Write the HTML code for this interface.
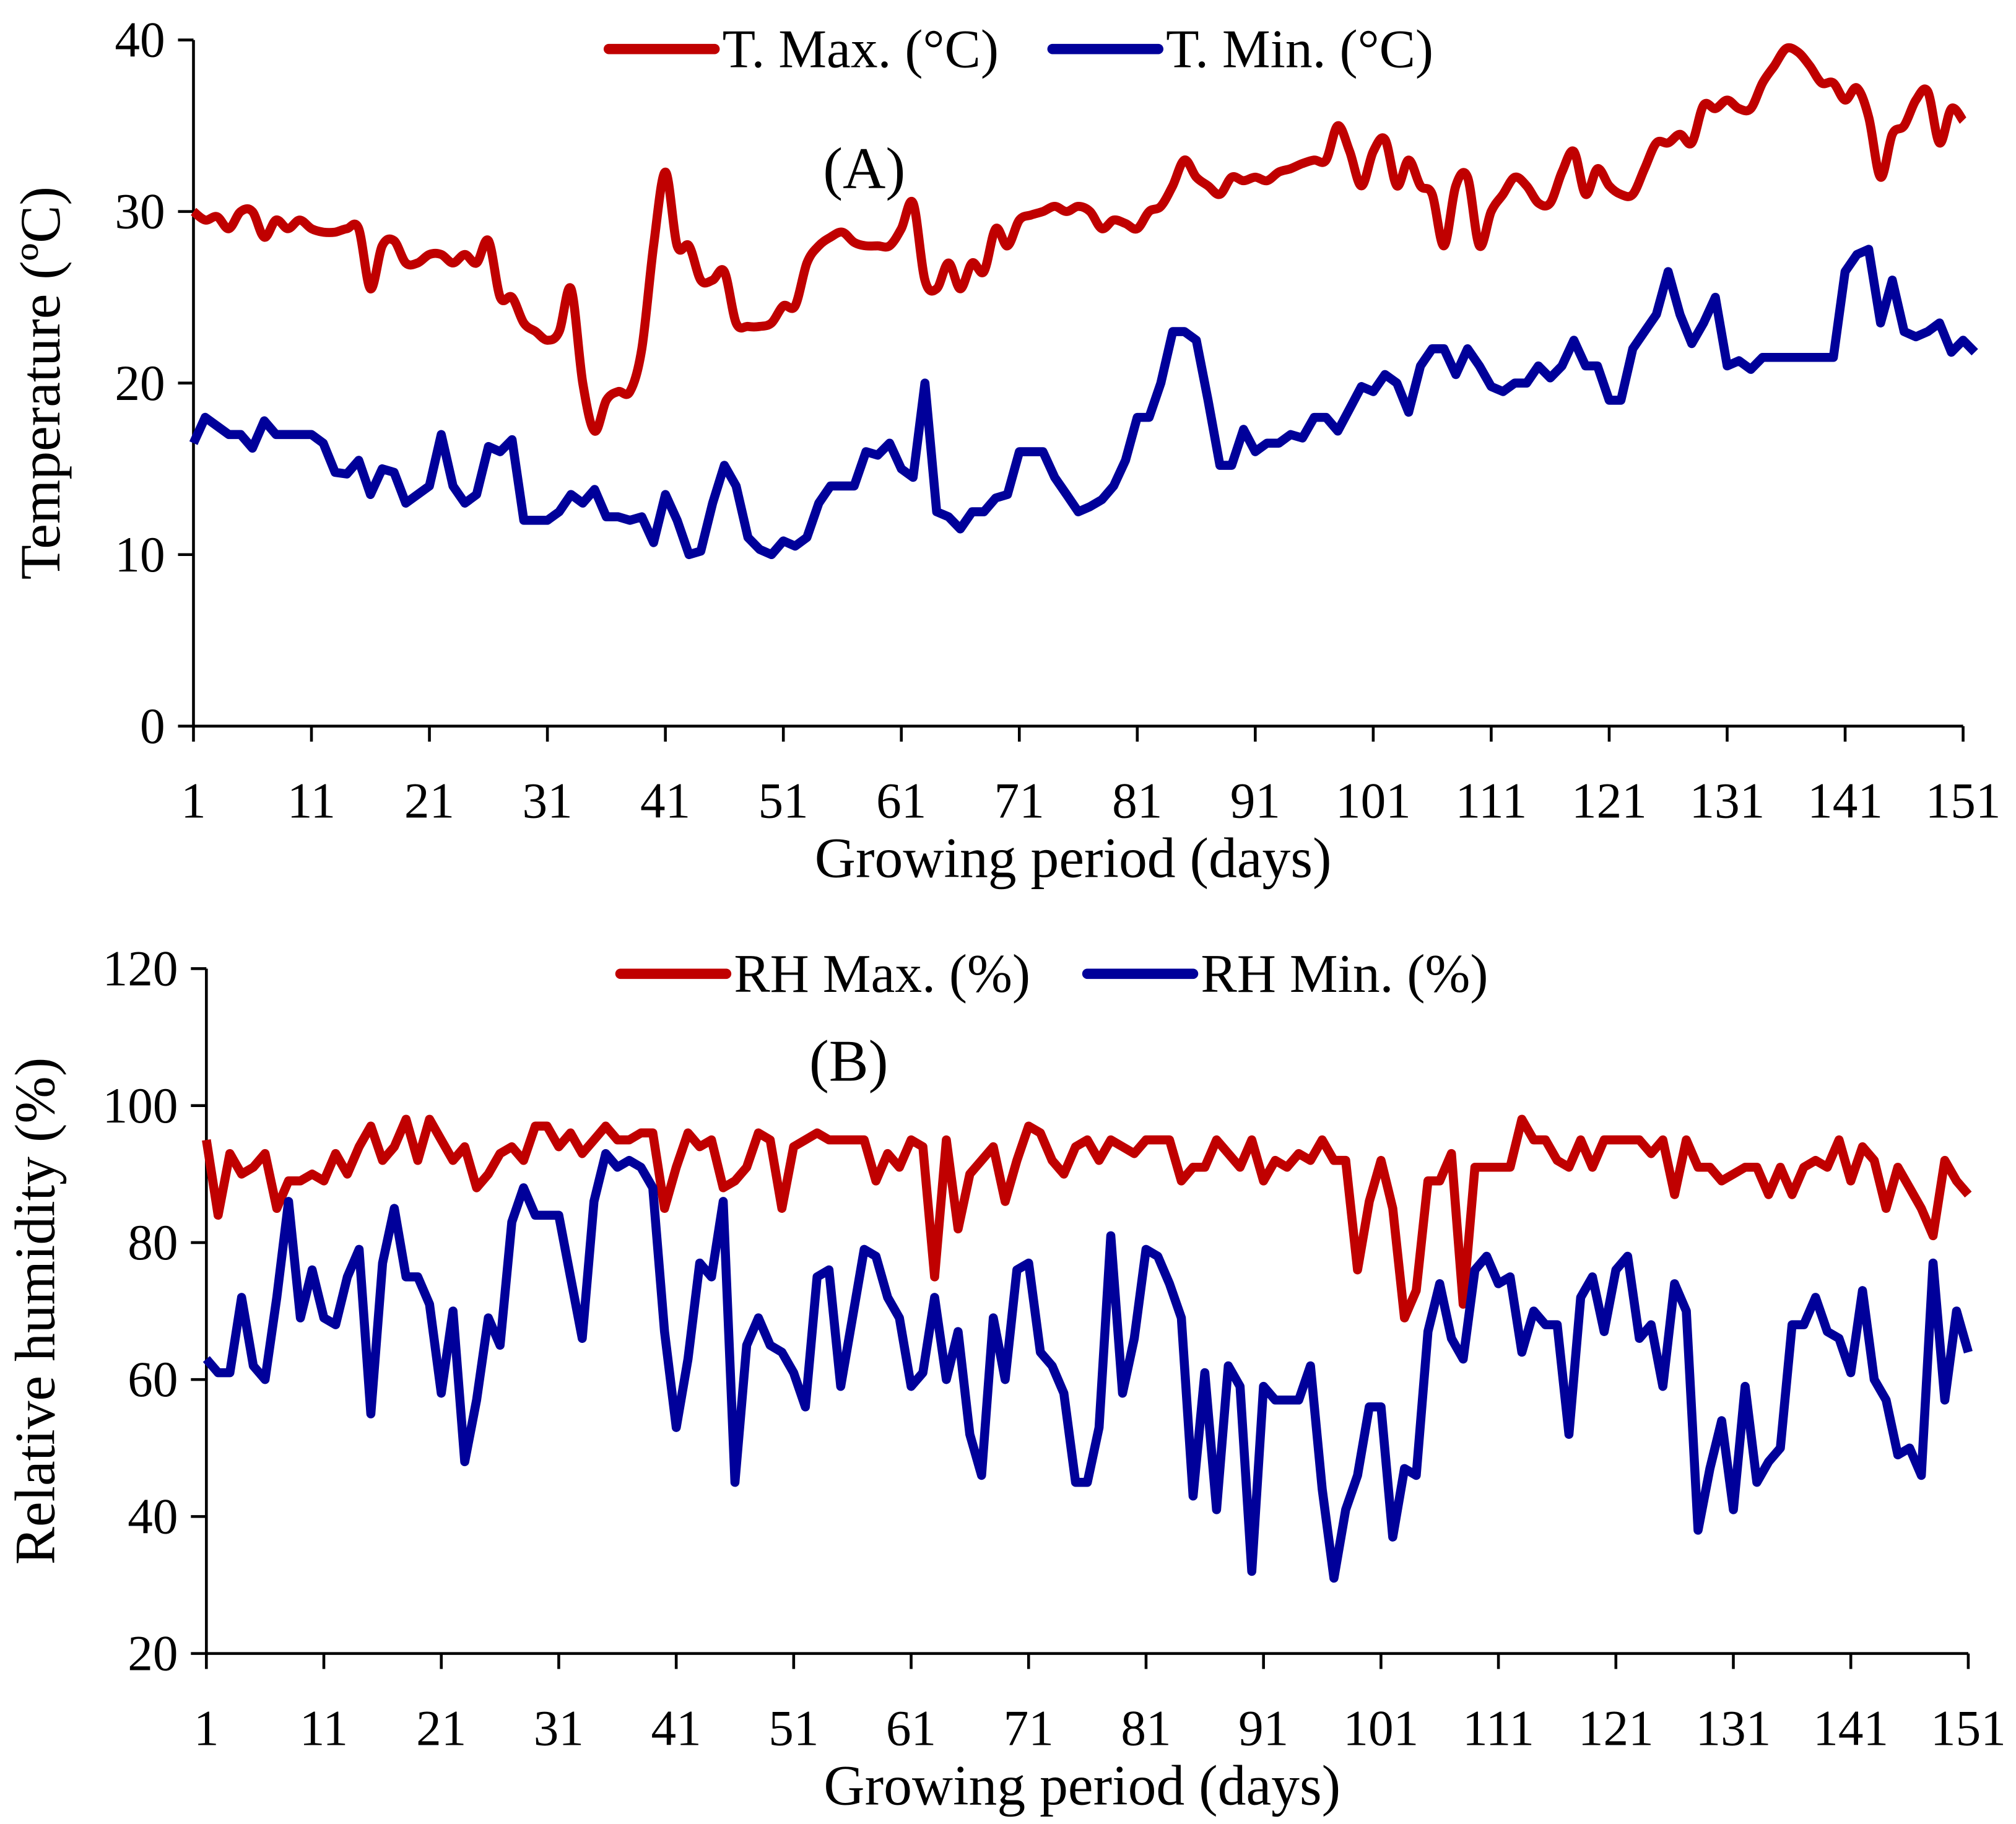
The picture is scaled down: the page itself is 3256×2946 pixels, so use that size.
<!DOCTYPE html>
<html><head><meta charset="utf-8"><style>
html,body{margin:0;padding:0;background:#fff;}
svg{display:block;}
text{font-family:"Liberation Serif",serif;fill:#000;}
</style></head><body>
<svg id="chart" xmlns="http://www.w3.org/2000/svg" width="3256" height="2946" viewBox="0 0 1563 1414.2">
<g id="pa"></g>
<g id="pb"></g>
</svg>
<script>
const tMax=[30,29.5,29.7,29,30,30,28.5,29.5,29,29.5,29,28.8,28.8,29,29,25.5,28,28.3,27,27,27.5,27.5,27,27.5,27,28.3,25,25,23.5,23,22.5,23,25.5,20,17.2,19,19.5,19.5,22,28,32.3,28,28,26,26,26.5,23.5,23.3,23.3,23.5,24.5,24.5,27,28,28.5,28.8,28.2,28,28,28,29,30.5,26,25.5,27,25.5,27,26.5,29,28,29.5,29.8,30,30.3,30,30.3,30,29,29.5,29.3,29,30,30.3,31.5,33,32,31.5,31,32,31.8,32,31.8,32.3,32.5,32.8,33,33,35,33.5,31.5,33.5,34.2,31.5,33,31.5,31,28,31.5,32,28,30,31,32,31.5,30.5,30.5,32.3,33.5,31,32.5,31.5,31,31,32.5,34,34,34.5,34,36.2,36,36.5,36,36,37.5,38.5,39.5,39.3,38.5,37.5,37.5,36.5,37.2,35.5,32,34.5,35,36.5,37,34,36,35.3];
const tMin=[16.5,18,17.5,17,17,16.2,17.8,17,17,17,17,16.5,14.8,14.7,15.5,13.5,15,14.8,13,13.5,14,17,14,13,13.5,16.3,16,16.7,12,12,12,12.5,13.5,13,13.8,12.2,12.2,12,12.2,10.7,13.5,12,10,10.2,13,15.2,14,11,10.3,10,10.8,10.5,11,13,14,14,14,16,15.8,16.5,15,14.5,20,12.5,12.2,11.5,12.5,12.5,13.3,13.5,16,16,16,14.5,13.5,12.5,12.8,13.2,14,15.5,18,18,20,23,23,22.5,19,15.2,15.2,17.3,16,16.5,16.5,17,16.8,18,18,17.2,18.5,19.8,19.5,20.5,20,18.3,21,22,22,20.5,22,21,19.8,19.5,20,20,21,20.3,21,22.5,21,21,19,19,22,23,24,26.5,24,22.3,23.5,25,21,21.3,20.8,21.5,21.5,21.5,21.5,21.5,21.5,21.5,26.5,27.5,27.8,23.5,26,23,22.7,23,23.5,21.8,22.5,21.8];
const rhMax=[95,84,93,90,91,93,85,89,89,90,89,93,90,94,97,92,94,98,92,98,95,92,94,88,90,93,94,92,97,97,94,96,93,95,97,95,95,96,96,85,91,96,94,95,88,89,91,96,95,85,94,95,96,95,95,95,95,89,93,91,95,94,75,95,82,90,92,94,86,92,97,96,92,90,94,95,92,95,94,93,95,95,95,89,91,91,95,93,91,95,89,92,91,93,92,95,92,92,76,86,92,85,69,73,89,89,93,71,91,91,91,91,98,95,95,92,91,95,91,95,95,95,95,93,95,87,95,91,91,89,90,91,91,87,91,87,91,92,91,95,89,94,92,85,91,88,85,81,92,89,87];
const rhMin=[63,61,61,72,62,60,72,86,69,76,69,68,75,79,55,77,85,75,75,71,58,70,48,57,69,65,83,88,84,84,84,75,66,86,93,91,92,91,88,67,53,63,77,75,86,45,65,69,65,64,61,56,75,76,59,69,79,78,72,69,59,61,72,60,67,52,46,69,60,76,77,64,62,58,45,45,53,81,58,66,79,78,74,69,43,61,41,62,59,32,59,57,57,57,62,44,31,41,46,56,56,37,47,46,67,74,66,63,76,78,74,75,64,70,68,68,52,72,75,67,76,78,66,68,59,74,70,38,47,54,41,59,45,48,50,68,68,72,67,66,61,73,60,57,49,50,46,77,57,70,64];
const xTicks=[1,11,21,31,41,51,61,71,81,91,101,111,121,131,141,151];
const tTicks=[0,10,20,30,40];
const rhTicks=[20,40,60,80,100,120];
const NS="http://www.w3.org/2000/svg";
function mk(parent,tag,attrs,txt){const e=document.createElementNS(NS,tag);for(const k in attrs)e.setAttribute(k,attrs[k]);if(txt!==undefined)e.textContent=txt;parent.appendChild(e);return e;}
function smoothPath(pts){
  let d='M'+pts[0][0].toFixed(1)+','+pts[0][1].toFixed(1);
  for(let i=0;i<pts.length-1;i++){
    const p0=pts[Math.max(0,i-1)],p1=pts[i],p2=pts[i+1],p3=pts[Math.min(pts.length-1,i+2)];
    const t=0.5/3;
    const c1=[p1[0]+(p2[0]-p0[0])*t,p1[1]+(p2[1]-p0[1])*t];
    const c2=[p2[0]-(p3[0]-p1[0])*t,p2[1]-(p3[1]-p1[1])*t];
    d+='C'+c1[0].toFixed(1)+','+c1[1].toFixed(1)+' '+c2[0].toFixed(1)+','+c2[1].toFixed(1)+' '+p2[0].toFixed(1)+','+p2[1].toFixed(1);
  }
  return d;
}
function panel(g,cfg){
  const X=d=>cfg.x0+(d-1)*(cfg.x1-cfg.x0)/150;
  const Y=v=>cfg.y0-(v-cfg.vmin)*(cfg.y0-cfg.y1)/(cfg.vmax-cfg.vmin);
  const ax=mk(g,'path',{d:`M${cfg.x0},${cfg.y1}V${cfg.y0}H${cfg.x1}`,stroke:'#000','stroke-width':2.2,fill:'none'});
  
  
  cfg.yt.forEach(v=>{
    const t=mk(g,'line',{x1:cfg.x0-12,x2:cfg.x0,y1:Y(v),y2:Y(v),stroke:'#000','stroke-width':2.2});
    
    
    const l=mk(g,'text',{x:cfg.x0-22,y:Y(v)+13,'text-anchor':'end','font-size':39},String(v));
    
    
  });
  xTicks.forEach(d=>{
    const t=mk(g,'line',{x1:X(d),x2:X(d),y1:cfg.y0,y2:cfg.y0+12,stroke:'#000','stroke-width':2.2});
    
    
    const l=mk(g,'text',{x:X(d),y:cfg.y0+71,'text-anchor':'middle','font-size':39},String(d));
    
    
  });
  const xt=mk(g,'text',{x:(cfg.x0+cfg.x1)/2-4,y:cfg.y0+117,'text-anchor':'middle','font-size':44},'Growing period (days)');
  
  
  const cy=(cfg.y0+cfg.y1)/2;
  const yt=mk(g,'text',{x:0,y:0,'text-anchor':'middle','font-size':44,transform:`translate(${cfg.ytx},${cy}) rotate(-90)`},cfg.ytitle);
  
  
  const lab=mk(g,'text',{x:cfg.labx,y:cfg.laby,'text-anchor':'middle','font-size':46},cfg.lab);
  
  
  cfg.series.forEach(s=>{
    const pts=s.data.map((v,i)=>[X(i+1),Y(v)]);
    const d=s.smooth?smoothPath(pts):pts.map((p,i)=>(i?'L':'M')+p[0].toFixed(1)+','+p[1].toFixed(1)).join('');
    const p=mk(g,'path',{d:d,stroke:s.color,'stroke-width':7,fill:'none','stroke-linejoin':'round'});
    
    
    const ll=mk(g,'line',{x1:s.lx,x2:s.lx+82,y1:cfg.legy,y2:cfg.legy,stroke:s.color,'stroke-width':8,'stroke-linecap':'round'});
    
    
    const lt=mk(g,'text',{x:s.lx+88,y:cfg.legy+14,'font-size':42},s.label);
    
    
  });
}
panel(document.getElementById('pa'),{x0:150,x1:1522,y0:563,y1:31,vmin:0,vmax:40,yt:tTicks,ytitle:'Temperature (ºC)',ytx:46,lab:'(A)',labx:670,laby:146,legy:38,
 series:[{data:tMax,color:'#c00000',name:'t-max',label:'T. Max. (°C)',lx:472,smooth:true},{data:tMin,color:'#00009a',name:'t-min',label:'T. Min. (°C)',lx:816}]});
panel(document.getElementById('pb'),{x0:160,x1:1526,y0:1282,y1:751,vmin:20,vmax:120,yt:rhTicks,ytitle:'Relative humidity (%)',ytx:42,lab:'(B)',labx:658,laby:838,legy:755,
 series:[{data:rhMax,color:'#c00000',name:'rh-max',label:'RH Max. (%)',lx:481},{data:rhMin,color:'#00009a',name:'rh-min',label:'RH Min. (%)',lx:843}]});
</script>
</body></html>
